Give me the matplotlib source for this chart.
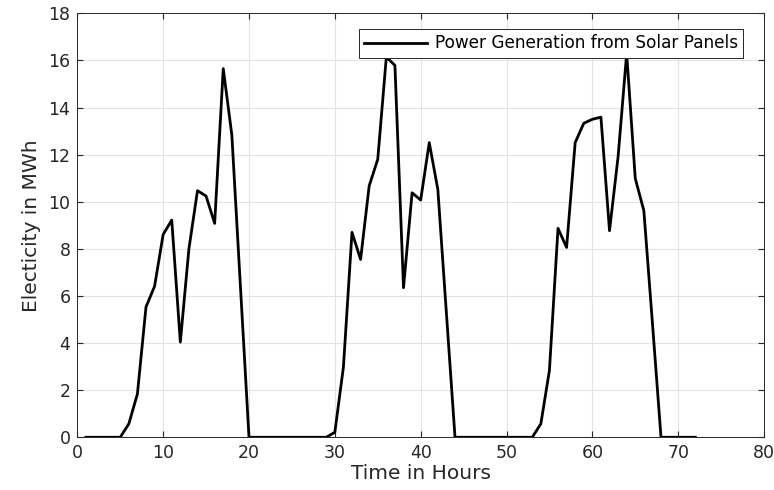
import matplotlib
matplotlib.use("Agg")
import matplotlib.pyplot as plt

plt.rcParams["font.family"] = ["DejaVu Sans"]

hours = list(range(1, 73))
day1 = [0, 0, 0, 0, 0, 0.57, 1.84, 5.53, 6.41, 8.61, 9.22, 4.04, 8.0, 10.47,
        10.24, 9.08, 15.65, 12.84, 6.42, 0, 0, 0, 0, 0]
day2 = [0, 0, 0, 0, 0, 0.21, 2.98, 8.70, 7.55, 10.67, 11.80, 16.14, 15.79, 6.35,
        10.38, 10.07, 12.51, 10.52, 5.26, 0, 0, 0, 0, 0]
day3 = [0, 0, 0, 0, 0, 0.57, 2.84, 8.87, 8.06, 12.51, 13.33, 13.50, 13.59, 8.77,
        11.91, 16.30, 10.99, 9.62, 4.85, 0, 0, 0, 0, 0]
power = day1 + day2 + day3

fig = plt.figure(figsize=(7.74, 4.9), dpi=100)
ax = fig.add_axes([0.0999, 0.1076, 0.8872, 0.8653])

ax.plot(hours, power, color="black", linewidth=2.0,
        label="Power Generation from Solar Panels")

ax.set_xlim(0, 80)
ax.set_ylim(0, 18)
ax.set_xticks(range(0, 81, 10))
ax.set_yticks(range(0, 19, 2))
ax.grid(True, color="#e3e3e3", linewidth=0.8)
ax.set_axisbelow(True)
ax.tick_params(direction="in", top=True, right=True, length=4.5,
               labelsize=12.5, colors="#262626", pad=5)
for s in ax.spines.values():
    s.set_color("#262626")
    s.set_linewidth(0.7)

ax.set_xlabel("Time in Hours", fontsize=14.5, color="#262626", labelpad=1)
ax.set_ylabel("Electicity in MWh", fontsize=14.5, color="#262626", labelpad=5)

leg = ax.legend(loc="upper right", bbox_to_anchor=(0.969, 0.962), fontsize=12.2,
                fancybox=False, framealpha=1, edgecolor="#262626",
                handlelength=3.7, handletextpad=0.45, borderpad=0.3,
                borderaxespad=0)
leg.get_frame().set_linewidth(0.7)

plt.savefig("out.png", dpi=100)
